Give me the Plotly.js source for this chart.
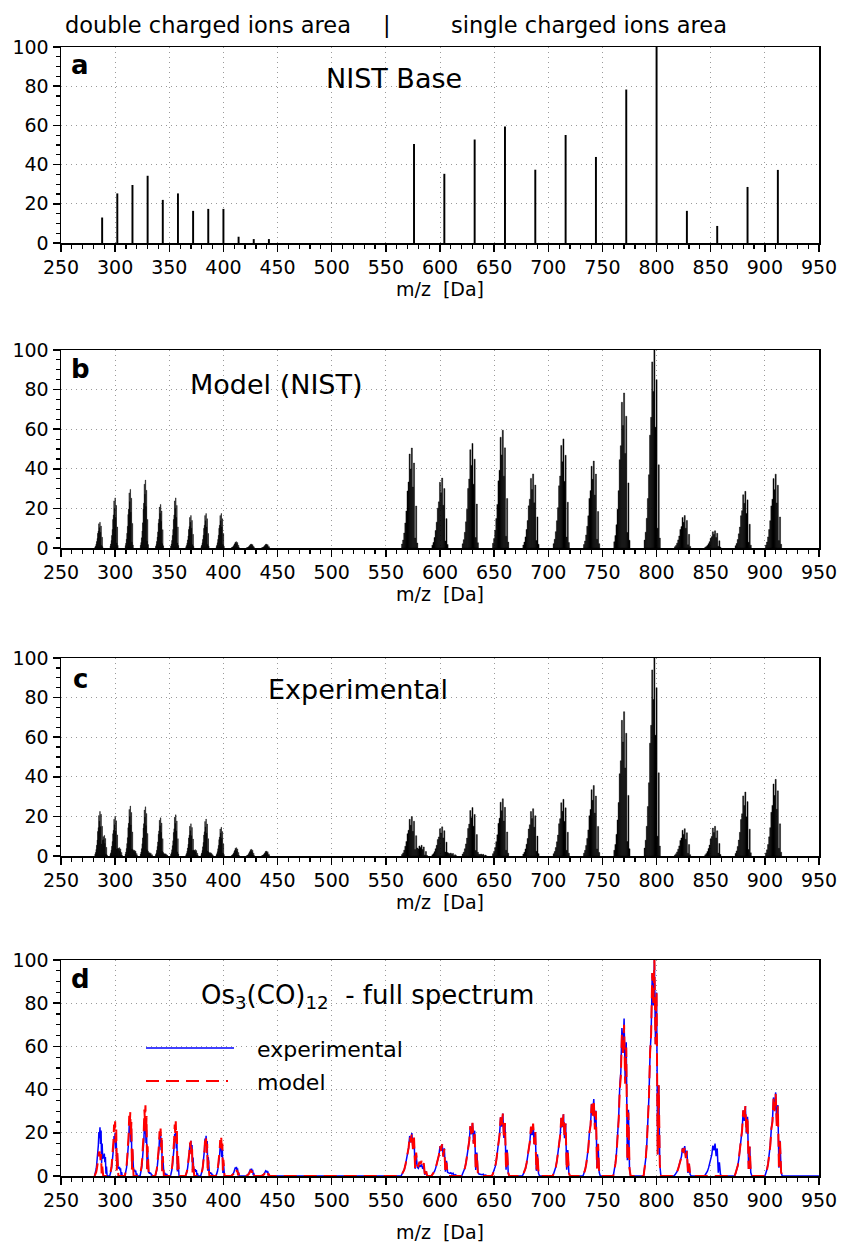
<!DOCTYPE html>
<html><head><meta charset="utf-8">
<script src="https://cdn.plot.ly/plotly-3.0.1.min.js"></script>
<style>html,body{margin:0;padding:0;background:#fff}#chart{width:841px;height:1243px}</style>
</head><body><div id="chart"></div>
<script>
// ---------------- data ----------------
// Os3(CO)n ion clusters: 12 doubly charged, 13 singly charged
const nistMz = [288,302,316,330,344,358,372,386,400,414,428,442,
                576,604,632,660,688,716,744,772,800,828,856,884,912];
const profileMz = [287,301,315,329,343,357,371,385,399,413,427,441,
                   576,604,632,660,688,716,744,772,800,828,856,884,912];
const charge = [2,2,2,2,2,2,2,2,2,2,2,2, 1,1,1,1,1,1,1,1,1,1,1,1,1];
// panel a / b : NIST base intensities
const nistBase = [13,25.3,29.6,34.3,22,25.3,16.4,17.4,17.4,3.2,2,2,
                  50.5,35.3,52.8,59.5,37.4,55.1,43.9,78.3,100,16.4,8.7,28.6,37.3];
// panel c / d : experimental cluster maxima
const expPeak = [21.7,19.7,25,24.7,19.2,20.8,16,18.5,14.5,4.2,3.4,2.5,
                 19.7,14.6,24.4,28.9,23.9,28.6,35.6,72.9,100,13.8,15,32.3,38.7];
// panel d : fitted model maxima
const fitPeak = [12,25.3,29.6,32.7,22,25.3,16.6,17.4,17.7,3,2.5,2,
                 19.7,14.7,24.6,28.9,24.3,28.6,35.3,70,100,13.5,0,32.4,38];
// minor (fragment) clusters seen in the experimental spectrum
const minorMz = [291,305,319,333,347,375,389,585,612,640];
const minorCharge = [2,2,2,2,2,2,2,1,1,1];
const minorExp = [10.4,4.2,2.9,1.7,1.2,3.2,1.7,5.4,1.5,1];
const minorFit = [0,0,0,0,0,0,0,7,0,0];
// relative isotope envelope of a cluster (offset in Da for z=1)
const isoOffset  = [-11,-10,-9,-8,-7,-6,-5,-4,-3,-2,-1,0,1,2,3];
const isoPattern = [0.04,0.08,0.15,0.25,0.37,0.57,0.66,0.94,0.79,1.0,0.61,0.85,0.10,0.42,0.05];
const expScanRange = [280, 950];
const xTicks = [250,300,350,400,450,500,550,600,650,700,750,800,850,900,950];
const yTicks = [0,20,40,60,80,100];

// ---------------- build profiles ----------------
function addProfile(map, mzs, zs, hs) {
  mzs.forEach((m, i) => {
    const z = zs[i], h = hs[i];
    if (!h) return;
    isoOffset.forEach((o, j) => {
      const key = Math.round((m + o / z) * 2);
      const cur = map.get(key) || {y: 0, w: 1 / z};
      cur.y += h * isoPattern[j];
      map.set(key, cur);
    });
  });
  return map;
}
function toArrays(map) {
  const keys = [...map.keys()].sort((a, b) => a - b);
  return {x: keys.map(k => k / 2), y: keys.map(k => map.get(k).y), w: keys.map(k => map.get(k).w)};
}
function toLine(p, endX) {
  const xs = [], ys = [];
  for (let i = 0; i < p.x.length; i++) {
    const step = p.w[i];
    if (i === 0 || p.x[i] - p.x[i - 1] > p.w[i - 1] + 0.01) { xs.push(p.x[i] - step); ys.push(0); }
    xs.push(p.x[i]); ys.push(p.y[i]);
    if (i === p.x.length - 1 || p.x[i + 1] - p.x[i] > step + 0.01) { xs.push(p.x[i] + step); ys.push(0); }
  }
  if (endX !== undefined) { xs.push(endX); ys.push(0); }
  return {x: xs, y: ys};
}
const modelB = toArrays(addProfile(new Map(), profileMz, charge, nistBase));
const expMap = addProfile(new Map(), profileMz, charge, expPeak);
addProfile(expMap, minorMz, minorCharge, minorExp);
const expC = toArrays(expMap);
const fitMap = addProfile(new Map(), profileMz, charge, fitPeak);
addProfile(fitMap, minorMz, minorCharge, minorFit);
const fitD = toArrays(fitMap);
const expLine = toLine(expC, expScanRange[1]);
const fitLine = toLine(fitD);

// ---------------- traces ----------------
const traces = [
  {type: 'bar', x: nistMz, y: nistBase, width: 1.8, xaxis: 'x', yaxis: 'y',
   marker: {color: '#000', line: {width: 0}}, showlegend: false},
  {type: 'bar', x: modelB.x, y: modelB.y, width: modelB.w, xaxis: 'x2', yaxis: 'y2',
   marker: {color: '#000', line: {width: 0.4, color: '#000'}}, showlegend: false},
  {type: 'bar', x: expC.x, y: expC.y, width: expC.w, xaxis: 'x3', yaxis: 'y3',
   marker: {color: '#000', line: {width: 0.4, color: '#000'}}, showlegend: false},
  {type: 'scatter', mode: 'lines', x: expLine.x, y: expLine.y, xaxis: 'x4', yaxis: 'y4',
   name: 'experimental', line: {color: '#0000ff', width: 1.5}, showlegend: false},
  {type: 'scatter', mode: 'lines', x: fitLine.x, y: fitLine.y, xaxis: 'x4', yaxis: 'y4',
   name: 'model', line: {color: '#ff0000', width: 2, dash: '13px,7px'}, showlegend: false}
];

// ---------------- layout ----------------
const W = 841, H = 1243;
const FONT = 'DejaVu Sans, Liberation Sans, Arial, sans-serif';
const px = v => v / W, py = v => 1 - v / H;
const xDom = [px(61), px(819)];
function xAx(anchor, standoff) {
  return {anchor: anchor, domain: xDom, range: [250, 950], tickmode: 'array', tickvals: xTicks,
    ticks: 'outside', ticklen: 7, tickwidth: 1.5, tickcolor: '#000',
    showline: true, mirror: true, linecolor: '#000', linewidth: 1.5,
    showgrid: true, gridcolor: '#9a9a9a', griddash: '1px,4px', gridwidth: 1, zeroline: false,
    minor: {dtick: 10, tick0: 250, ticks: 'outside', ticklen: 4, tickwidth: 1.2, tickcolor: '#000', showgrid: false},
    tickfont: {family: FONT, size: 19, color: '#000'},
    title: {text: 'm/z\u00a0\u00a0[Da]', font: {family: FONT, size: 19, color: '#000'}, standoff: standoff},
    fixedrange: true};
}
function yAx(anchor, top, bottom) {
  return {anchor: anchor, domain: [py(bottom), py(top)], range: [0, 100], tickmode: 'array', tickvals: yTicks,
    ticks: 'outside', ticklen: 7, tickwidth: 1.5, tickcolor: '#000',
    showline: true, mirror: true, linecolor: '#000', linewidth: 1.5,
    showgrid: true, gridcolor: '#9a9a9a', griddash: '1px,4px', gridwidth: 1, zeroline: false,
    minor: {dtick: 5, tick0: 0, ticks: 'outside', ticklen: 4, tickwidth: 1.2, tickcolor: '#000', showgrid: false},
    tickfont: {family: FONT, size: 19, color: '#000'}, fixedrange: true};
}
function ann(text, x, y, size, opts) {
  return Object.assign({text: text, xref: 'paper', yref: 'paper', x: px(x), y: py(y),
    xanchor: 'center', yanchor: 'middle', showarrow: false,
    font: {family: FONT, size: size, color: '#000'}}, opts || {});
}
const layout = {
  width: W, height: H, margin: {l: 0, r: 0, t: 0, b: 0},
  paper_bgcolor: '#fff', plot_bgcolor: '#fff', showlegend: false, barmode: 'overlay',
  font: {family: FONT, color: '#000'},
  xaxis: xAx('y', 5), yaxis: yAx('x', 47, 243),
  xaxis2: xAx('y2', 5), yaxis2: yAx('x2', 350, 548),
  xaxis3: xAx('y3', 5), yaxis3: yAx('x3', 658, 856),
  xaxis4: xAx('y4', 16), yaxis4: yAx('x4', 960, 1176),
  annotations: [
    ann('double charged ions area', 208, 25, 22.5),
    ann('|', 387, 25, 22.5),
    ann('single charged ions area', 589, 25, 22.5),
    ann('<b>a</b>', 80, 65, 26),
    ann('<b>b</b>', 80, 369, 26),
    ann('<b>c</b>', 80, 679, 26),
    ann('<b>d</b>', 80, 979, 26),
    ann('NIST Base', 394, 79, 27),
    ann('Model (NIST)', 276, 384, 27),
    ann('Experimental', 358, 689, 27),
    ann('Os<sub>3</sub>(CO)<sub>12</sub>\u00a0\u00a0- full spectrum', 199, 996, 26, {xanchor: 'left'}),
    ann('experimental', 255, 1049, 22, {xanchor: 'left'}),
    ann('model', 255, 1082, 22, {xanchor: 'left'})
  ],
  shapes: [
    {type: 'line', xref: 'paper', yref: 'paper', x0: px(146), x1: px(234), y0: py(1048), y1: py(1048),
     line: {color: '#0000ff', width: 1.5}},
    {type: 'line', xref: 'paper', yref: 'paper', x0: px(146), x1: px(228), y0: py(1081), y1: py(1081),
     line: {color: '#ff0000', width: 2, dash: '13px,7px'}}
  ]
};
Plotly.newPlot('chart', traces, layout, {staticPlot: true, displayModeBar: false});
</script>
</body></html>
